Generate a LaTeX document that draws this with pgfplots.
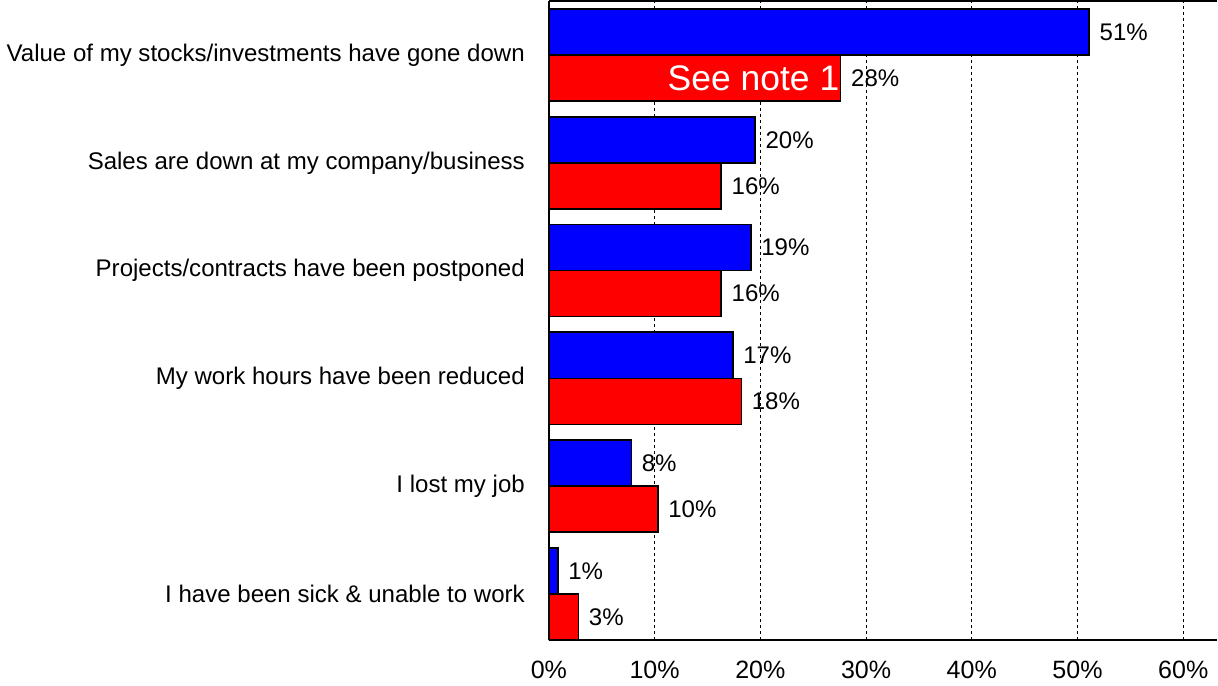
\documentclass[border=0pt]{standalone}
\usepackage{fontspec}
\setmainfont{Liberation Sans}
\usepackage{pgfplots}
\pgfplotsset{compat=1.18}
\definecolor{barblue}{RGB}{0,0,255}
\definecolor{barred}{RGB}{255,0,0}
\begin{document}
\begin{tikzpicture}
\begin{axis}[
    xbar,
    scale only axis,
    width=333.5pt, height=319pt,
    xmin=0, xmax=63.2,
    ymin=-0.428, ymax=5.502,
    bar width=0.4275,
    axis x line*=bottom,
    axis y line*=left,
    axis line style={line width=0.9pt},
    major tick length=0pt,
    xtick={0,10,...,60},
    xticklabel={\pgfmathprintnumber{\tick}\%},
    /pgf/number format/assume math mode=true,
    xticklabel style={font=\fontsize{12.5}{14}\selectfont, yshift=-7pt},
    ytick={0,...,5},
    yticklabels={I have been sick \& unable to work,
                 I lost my job,
                 My work hours have been reduced,
                 Projects/contracts have been postponed,
                 Sales are down at my company/business,
                 Value of my stocks/investments have gone down},
    yticklabel style={font=\fontsize{12}{14}\selectfont, xshift=-8.5pt},
    xmajorgrids,
    major grid style={black, dash pattern=on 1.5pt off 1.5pt, line width=0.5pt},
    point meta=explicit,
    nodes near coords={\pgfmathprintnumber{\pgfplotspointmeta}\%},
    nodes near coords align={horizontal},
    every node near coord/.append style={font=\fontsize{12}{14}\selectfont, black, xshift=1.5pt},
    after end axis/.code={\draw[line width=0.9pt] (rel axis cs:0,1) -- (rel axis cs:1,1);},
]
\addplot[fill=barblue, draw=black, line width=0.8pt, bar shift=0.21375] coordinates {
    (51.1,5) [51]
    (19.5,4) [20]
    (19.1,3) [19]
    (17.4,2) [17]
    (7.8,1) [8]
    (0.85,0) [1]
};
\addplot[fill=barred, draw=black, line width=0.8pt, bar shift=-0.21375] coordinates {
    (27.6,5) [28]
    (16.3,4) [16]
    (16.3,3) [16]
    (18.2,2) [18]
    (10.3,1) [10]
    (2.8,0) [3]
};
\node[anchor=east, text=white, font=\fontsize{17.7}{20}\selectfont, inner sep=0.5pt] at (axis cs:27.6,4.786) {See note 1};
\end{axis}
\end{tikzpicture}
\end{document}
